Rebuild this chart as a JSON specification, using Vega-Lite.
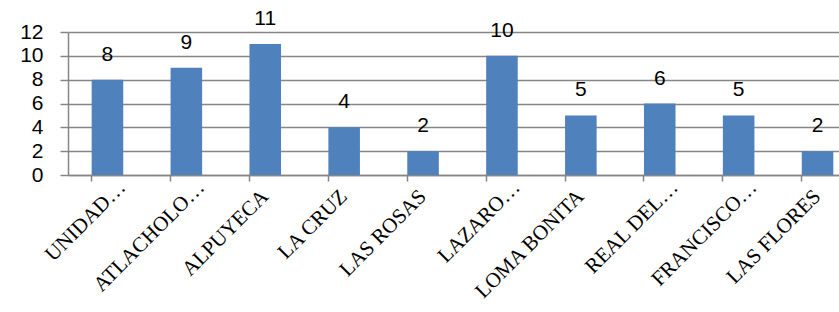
{
  "$schema": "https://vega.github.io/schema/vega-lite/v6.json",
  "width": 771,
  "height": 143,
  "autosize": {"type": "none"},
  "padding": {"left": 68, "top": 32, "right": 0, "bottom": 137},
  "background": "white",
  "config": {"view": {"stroke": null}},
  "data": {"values": [
    {"lugar": "UNIDAD…", "valor": 8},
    {"lugar": "ATLACHOLO…", "valor": 9},
    {"lugar": "ALPUYECA", "valor": 11},
    {"lugar": "LA CRUZ", "valor": 4},
    {"lugar": "LAS ROSAS", "valor": 2},
    {"lugar": "LAZARO…", "valor": 10},
    {"lugar": "LOMA BONITA", "valor": 5},
    {"lugar": "REAL DEL…", "valor": 6},
    {"lugar": "FRANCISCO…", "valor": 5},
    {"lugar": "LAS FLORES", "valor": 2}
  ]},
  "encoding": {
    "x": {
      "field": "lugar", "type": "nominal", "sort": null,
      "scale": {"range": [0, 789], "paddingInner": 0.6, "paddingOuter": 0.3},
      "axis": {
        "title": null, "labelAngle": -45, "labelAlign": "right", "labelBaseline": "middle",
        "labelFont": "Liberation Serif", "labelFontSize": 21, "labelColor": "black",
        "labelPadding": {"condition": {"test": "indexof(datum.label, '…') >= 0", "value": 3}, "value": 12},
        "labelOffset": {"condition": {"test": "indexof(datum.label, '…') >= 0", "value": 15}, "value": 0},
        "labelLimit": 300,
        "bandPosition": 0, "tickSize": 6, "tickColor": "#868686", "domainColor": "#868686",
        "domainWidth": 1.5, "tickWidth": 1.5, "grid": false
      }
    },
    "y": {
      "field": "valor", "type": "quantitative",
      "scale": {"domain": [0, 12], "nice": false},
      "axis": {
        "title": null, "values": [0, 2, 4, 6, 8, 10, 12],
        "labelFont": "Liberation Sans", "labelFontSize": 21, "labelColor": "black",
        "labelPadding": 17, "tickSize": 8, "tickColor": "#868686", "domainColor": "#868686",
        "domainWidth": 1.5, "tickWidth": 1.5,
        "grid": true, "gridColor": "#868686", "gridWidth": 1.5
      }
    }
  },
  "layer": [
    {"mark": {"type": "bar", "color": "#4F81BD"}},
    {"mark": {"type": "text", "baseline": "alphabetic", "dy": -19, "font": "Liberation Sans", "fontSize": 21, "color": "black"},
     "encoding": {"text": {"field": "valor", "type": "quantitative"}}}
  ]
}
